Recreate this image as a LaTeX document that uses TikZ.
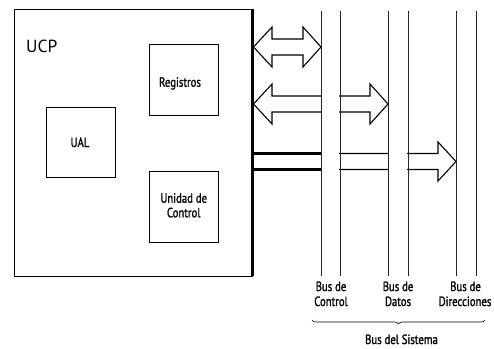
\documentclass[tikz,border=0pt]{standalone}
\usepackage{fontspec}
\setmainfont{PT Sans}[FakeStretch=0.8, FakeBold=1.4]
\newfontfamily\ucpfont{PT Sans}
\usetikzlibrary{decorations.pathreplacing}
\begin{document}
\begin{tikzpicture}[x=1pt,y=-1pt,
  box/.style={draw, line width=0.8pt, inner sep=0pt},
  lbl/.style={font=\fontsize{13.4}{15}\selectfont, align=center, inner sep=0pt},
  busline/.style={line width=0.8pt, black!85},
  arrowshape/.style={draw, line width=1.1pt, fill=white, line join=miter},
  gap/.style={fill=white}]
\useasboundingbox (0,0) rectangle (494,348);

% CPU box
\node[box, minimum width=238pt, minimum height=267pt] (ucp) at (133,142.5) {};
\draw[line width=3pt] (ucp.north east) -- (ucp.south east);
\node[anchor=base west, inner sep=0pt, font=\ucpfont\fontsize{17.5}{20}\selectfont] (ucplabel) at (26,52) {UCP};

% inner boxes
\node[box, minimum width=69pt, minimum height=71pt] (reg) at (183.5,79.5) {};
\node[box, minimum width=69pt, minimum height=70pt] (ual) at (80.5,142) {};
\node[box, minimum width=69pt, minimum height=71pt] (uc) at (183.5,206.5) {};
\node[lbl, anchor=base] (regt) at (180,86.7) {Registros};
\node[lbl, anchor=base] (ualt) at (80,147) {UAL};
\node[lbl, anchor=base] (uct1) at (183.7,202.7) {Unidad de};
\node[lbl, anchor=base] (uct2) at (183.7,217.3) {Control};

% bus coordinates
\foreach \n/\x in {c1/321,c2/340,d1/388,d2/408,a1/456,a2/476}{
  \coordinate (\n top) at (\x,11);
  \coordinate (\n bot) at (\x,276);
}

% arrow 1 (control)
\draw[arrowshape] (253.5,47) -- (272,27) -- (272,39) -- (303,39) -- (303,27) -- (c1top |- 0,47)
  -- (303,67) -- (303,55) -- (272,55) -- (272,67) -- cycle;

% arrow 2 (datos)
\draw[arrowshape] (253.5,104) -- (272,84) -- (272,96) -- (370,96) -- (370,84) -- (d1top |- 0,104)
  -- (370,124) -- (370,112) -- (272,112) -- (272,124) -- cycle;
\fill[gap] (321.6,93) rectangle (339.4,115);

% arrow 3 (direcciones)
\draw[line width=1.1pt, line join=miter] (253.5,153.5) -- (438,153.5) -- (438,142) -- (a1top |- 0,161.5)
  -- (438,181) -- (438,169.5) -- (253.5,169.5);
\draw[line width=2.2pt] (253.5,153.5) -- (c1top |- 0,153.5);
\draw[line width=2.2pt] (253.5,169.5) -- (c1top |- 0,169.5);
\fill[gap] (321.6,150) rectangle (339.4,173);
\fill[gap] (388.6,150) rectangle (407.4,173);

% bus lines
\foreach \n in {c1,c2,d1,d2,a1,a2}{
  \draw[busline] (\n top) -- (\n bot);
}

% bus labels
\node[lbl, anchor=base] (lc1) at (331,291) {Bus de};
\node[lbl, anchor=base] (lc2) at (331,306) {Control};
\node[lbl, anchor=base] (ld1) at (398,291) {Bus de};
\node[lbl, anchor=base] (ld2) at (398,306) {Datos};
\node[lbl, anchor=base] (la1) at (465.5,291) {Bus de};
\node[lbl, anchor=base] (la2) at (465,306) {Direcciones};

% brace
\draw[decorate, decoration={brace, mirror, amplitude=4pt}, line width=0.6pt] (312,320) -- (485,320);
\node[lbl, anchor=base] (sys) at (401.5,344) {Bus del Sistema};
\end{tikzpicture}
\end{document}
